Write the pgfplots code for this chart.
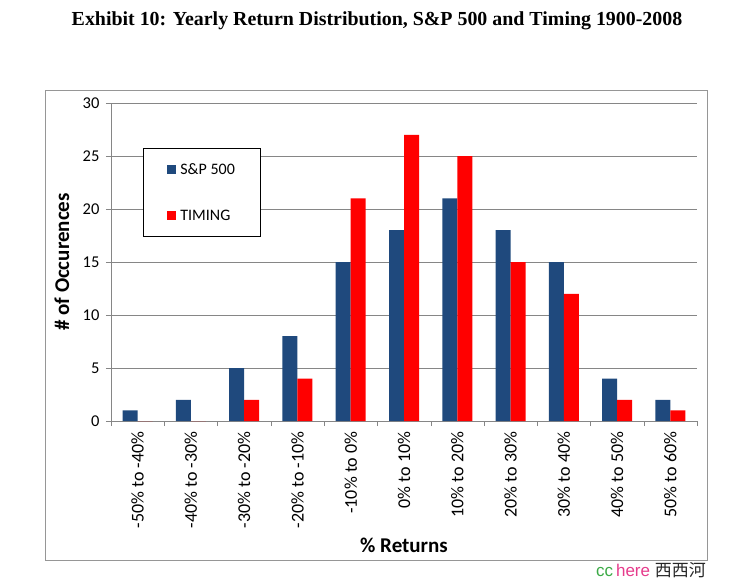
\documentclass[border=0pt]{standalone}
\usepackage{pgfplots}
\pgfplotsset{compat=1.18}
\usepackage{fontspec}
\setmainfont{Carlito}
\newfontfamily\titlefont{Liberation Serif}
\newfontfamily\wmfont{Liberation Sans}
\newfontfamily\cjk{Noto Sans CJK SC}
\definecolor{spblue}{RGB}{31,73,125}
\definecolor{timred}{RGB}{255,0,0}
\definecolor{gridgray}{RGB}{134,134,134}
\definecolor{framegray}{RGB}{150,150,150}
\definecolor{ccgreen}{RGB}{60,170,70}
\definecolor{herepink}{RGB}{230,60,140}

\pgfplotstableread{
x sp timing
0 1 0
1 2 0
2 5 2
3 8 4
4 15 21
5 18 27
6 21 25
7 18 15
8 15 12
9 4 2
10 2 1
}\datatable

\begin{document}
\begin{tikzpicture}
\path[use as bounding box] (0pt,0pt) rectangle (734pt,-582pt);
\draw[framegray, line width=0.8pt] (45pt,-90pt) rectangle (707pt,-560pt);
\node[font=\titlefont\bfseries\fontsize{19.9}{22}\selectfont] at (377pt,-21pt) {Exhibit 10: Yearly Return Distribution, S\&P 500 and Timing 1900-2008};
\begin{axis}[
  at={(111pt,-421pt)}, anchor=south west,
  width=586pt, height=318pt, scale only axis,
  xmin=-0.5, xmax=10.5, ymin=0, ymax=30,
  ytick={0,5,...,30},
  xtick={0,...,10},
  xticklabels={-50\% to -40\%,-40\% to -30\%,-30\% to -20\%,-20\% to -10\%,-10\% to 0\%,0\% to 10\%,10\% to 20\%,20\% to 30\%,30\% to 40\%,40\% to 50\%,50\% to 60\%},
  minor xtick={-0.5,0.5,...,10.5},
  major x tick style={draw=none},
  minor x tick style={gridgray},
  minor tick length=5pt,
  major tick length=5pt,
  tick align=outside,
  y tick style={gridgray},
  axis lines*=left,
  axis line style={gridgray, line width=0.8pt},
  ymajorgrids,
  grid style={gridgray, line width=0.6pt},
  ybar=0pt, bar width=15pt,
  /pgf/number format/assume math mode=true,
  yticklabel style={font=\fontsize{16.5}{16.5}\selectfont, xshift=-3pt},
  xticklabel style={font=\fontsize{18}{18}\selectfont, rotate=90, anchor=east, xshift=-2pt, yshift=0pt},
  xlabel={\% Returns},
  ylabel={\# of Occurences},
  label style={font=\bfseries\fontsize{21}{21}\selectfont},
  xlabel style={at={(axis description cs:0.5,-0.39)}, anchor=center},
  ylabel style={at={(axis description cs:-0.0836,0.5)}, anchor=center, rotate=0},
  legend style={at={(axis description cs:0.0546,0.858)}, anchor=north west,
    draw=black, line width=0.8pt, font=\fontsize{16}{16}\selectfont,
    inner xsep=24pt, inner ysep=13pt, row sep=30pt},
  legend cell align=left,
]
\addplot[fill=spblue, draw=none, legend image code/.code={\fill[spblue] (0pt,-4.5pt) rectangle (9pt,4.5pt); \path (11pt,0pt);}] table[x=x, y=sp] {\datatable};
\addlegendentry{S\&P 500}
\addplot[fill=timred, draw=none, legend image code/.code={\fill[timred] (0pt,-4.5pt) rectangle (9pt,4.5pt); \path (11pt,0pt);}] table[x=x, y=timing] {\datatable};
\addlegendentry{TIMING}
\end{axis}
\node[anchor=east, inner sep=0pt, font=\fontsize{17}{17}\selectfont] at (706pt,-570pt) {\wmfont\textcolor{ccgreen}{cc}\,\textcolor{herepink}{here} \cjk\textcolor{black!85}{西西河}};
\end{tikzpicture}
\end{document}
